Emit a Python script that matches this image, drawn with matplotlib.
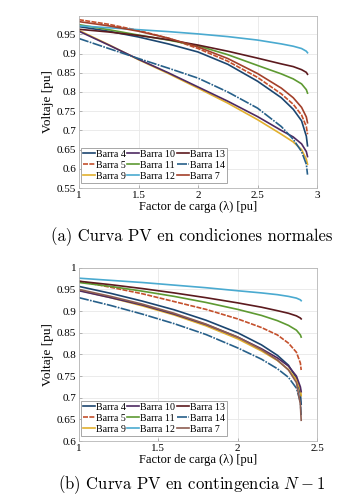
import matplotlib
matplotlib.use('Agg')
import matplotlib.pyplot as plt

plt.rcParams['mathtext.fontset'] = 'cm'

series_names = ['Barra 4', 'Barra 5', 'Barra 9', 'Barra 10', 'Barra 11',
                'Barra 12', 'Barra 13', 'Barra 14', 'Barra 7']

# (a) normal conditions
lam_a = [1.0, 1.25, 1.5, 1.75, 2.0, 2.25, 2.5, 2.7, 2.8, 2.87, 2.91, 2.92]
volt_a = {
    'Barra 4':  [0.970, 0.958, 0.943, 0.925, 0.904, 0.872, 0.828, 0.785, 0.755, 0.725, 0.685, 0.660],
    'Barra 5':  [0.988, 0.976, 0.960, 0.940, 0.913, 0.880, 0.838, 0.795, 0.768, 0.740, 0.710, 0.690],
    'Barra 9':  [0.960, 0.923, 0.884, 0.848, 0.810, 0.771, 0.728, 0.690, 0.670, 0.650, 0.625, 0.612],
    'Barra 10': [0.958, 0.922, 0.885, 0.850, 0.813, 0.776, 0.736, 0.700, 0.683, 0.665, 0.645, 0.632],
    'Barra 11': [0.975, 0.962, 0.948, 0.935, 0.920, 0.897, 0.869, 0.847, 0.834, 0.821, 0.806, 0.797],
    'Barra 12': [0.972, 0.967, 0.962, 0.957, 0.951, 0.944, 0.935, 0.925, 0.919, 0.913, 0.906, 0.902],
    'Barra 13': [0.963, 0.956, 0.947, 0.936, 0.922, 0.906, 0.888, 0.873, 0.866, 0.858, 0.851, 0.846],
    'Barra 14': [0.939, 0.913, 0.887, 0.862, 0.836, 0.800, 0.758, 0.710, 0.677, 0.645, 0.612, 0.585],
    'Barra 7':  [0.983, 0.972, 0.958, 0.940, 0.917, 0.887, 0.848, 0.810, 0.785, 0.760, 0.735, 0.720],
}

# (b) N-1 contingency
lam_b = [1.0, 1.2, 1.4, 1.6, 1.8, 2.0, 2.15, 2.25, 2.32, 2.37, 2.395, 2.40]
volt_b = {
    'Barra 4':  [0.957, 0.941, 0.923, 0.903, 0.879, 0.850, 0.822, 0.798, 0.775, 0.745, 0.710, 0.685],
    'Barra 5':  [0.969, 0.955, 0.940, 0.922, 0.904, 0.882, 0.862, 0.845, 0.826, 0.805, 0.780, 0.764],
    'Barra 9':  [0.948, 0.931, 0.912, 0.891, 0.866, 0.836, 0.808, 0.786, 0.765, 0.742, 0.718, 0.705],
    'Barra 10': [0.947, 0.931, 0.914, 0.893, 0.869, 0.840, 0.813, 0.792, 0.773, 0.750, 0.725, 0.714],
    'Barra 11': [0.966, 0.957, 0.946, 0.934, 0.920, 0.904, 0.890, 0.878, 0.867, 0.856, 0.845, 0.840],
    'Barra 12': [0.976, 0.971, 0.966, 0.960, 0.954, 0.947, 0.942, 0.938, 0.934, 0.930, 0.926, 0.924],
    'Barra 13': [0.969, 0.961, 0.952, 0.942, 0.931, 0.919, 0.909, 0.901, 0.895, 0.889, 0.884, 0.882],
    'Barra 14': [0.931, 0.913, 0.893, 0.871, 0.846, 0.815, 0.789, 0.767, 0.747, 0.722, 0.690, 0.660],
    'Barra 7':  [0.950, 0.934, 0.916, 0.895, 0.870, 0.840, 0.811, 0.787, 0.764, 0.735, 0.685, 0.648],
}

xticks_a = [1, 1.5, 2, 2.5, 3]
xticklabels_a = ['1', '1.5', '2', '2.5', '3']
yticks_a = [0.55, 0.6, 0.65, 0.7, 0.75, 0.8, 0.85, 0.9, 0.95]
yticklabels_a = ['0.55', '0.6', '0.65', '0.7', '0.75', '0.8', '0.85', '0.9', '0.95']
xticks_b = [1, 1.5, 2, 2.5]
xticklabels_b = ['1', '1.5', '2', '2.5']
yticks_b = [0.6, 0.65, 0.7, 0.75, 0.8, 0.85, 0.9, 0.95, 1.0]
yticklabels_b = ['0.6', '0.65', '0.7', '0.75', '0.8', '0.85', '0.9', '0.95', '1']

styles = {
    'Barra 4':  ('#1c4670', '-'),
    'Barra 5':  ('#c4502c', (0, (3, 0.8))),
    'Barra 9':  ('#e2b02e', '-'),
    'Barra 10': ('#4e2a62', '-'),
    'Barra 11': ('#5e9a32', '-'),
    'Barra 12': ('#4aaad0', '-'),
    'Barra 13': ('#5c1a1e', '-'),
    'Barra 14': ('#27608a', (0, (6, 0.8, 1, 0.8))),
    'Barra 7':  ('#a3402a', '-'),
}
colour_7_b = '#8e5e52'

fig = plt.figure(figsize=(3.64, 4.95), dpi=100)
serif = 'Liberation Serif'


def draw(ax, lam, volt, xlim, ylim, xt, xtl, yt, ytl, c7):
    for name in series_names:
        col, ls = styles[name]
        if name == 'Barra 7':
            col = c7
        ax.plot(lam, volt[name], color=col, linestyle=ls, lw=1.2, label=name)
    ax.set_xlim(*xlim)
    ax.set_ylim(*ylim)
    ax.set_xticks(xt)
    ax.set_xticklabels(xtl, fontfamily=serif, fontsize=8)
    ax.set_yticks(yt)
    ax.set_yticklabels(ytl, fontfamily=serif, fontsize=8)
    ax.grid(color='#e8e8e8', lw=0.6)
    ax.set_axisbelow(True)
    for s in ax.spines.values():
        s.set_color('#b5b5b5')
        s.set_linewidth(0.6)
    ax.tick_params(direction='in', length=2, width=0.5, color='#999999', pad=2)
    ax.set_xlabel('Factor de carga (λ) [pu]', fontfamily=serif, fontsize=9, labelpad=1)
    ax.set_ylabel('Voltaje [pu]', fontfamily=serif, fontsize=9.5, labelpad=2)
    leg = ax.legend(ncol=3, loc='lower left', bbox_to_anchor=(0.0, 0.02),
                    prop={'family': serif, 'size': 7.2}, handlelength=1.2,
                    handletextpad=0.1, columnspacing=0.15, labelspacing=0.2,
                    borderpad=0.2, borderaxespad=0.2, fancybox=False,
                    framealpha=1, edgecolor='#999999')
    leg.get_frame().set_linewidth(0.6)


ax1 = fig.add_axes([0.217, 0.620, 0.654, 0.348])
draw(ax1, lam_a, volt_a, (1, 3), (0.55, 0.998), xticks_a, xticklabels_a,
     yticks_a, yticklabels_a, styles['Barra 7'][0])

ax2 = fig.add_axes([0.217, 0.109, 0.654, 0.350])
draw(ax2, lam_b, volt_b, (1, 2.5), (0.6, 1.0), xticks_b, xticklabels_b,
     yticks_b, yticklabels_b, colour_7_b)

fig.text(0.527, 1 - 237 / 495, '(a) Curva PV en condiciones normales',
         fontfamily='cmr10', fontsize=12, ha='center', va='center')
fig.text(0.527, 1 - 485 / 495, '(b) Curva PV en contingencia $N-1$',
         fontfamily='cmr10', fontsize=12, ha='center', va='center')

fig.savefig('out.png', dpi=100)
